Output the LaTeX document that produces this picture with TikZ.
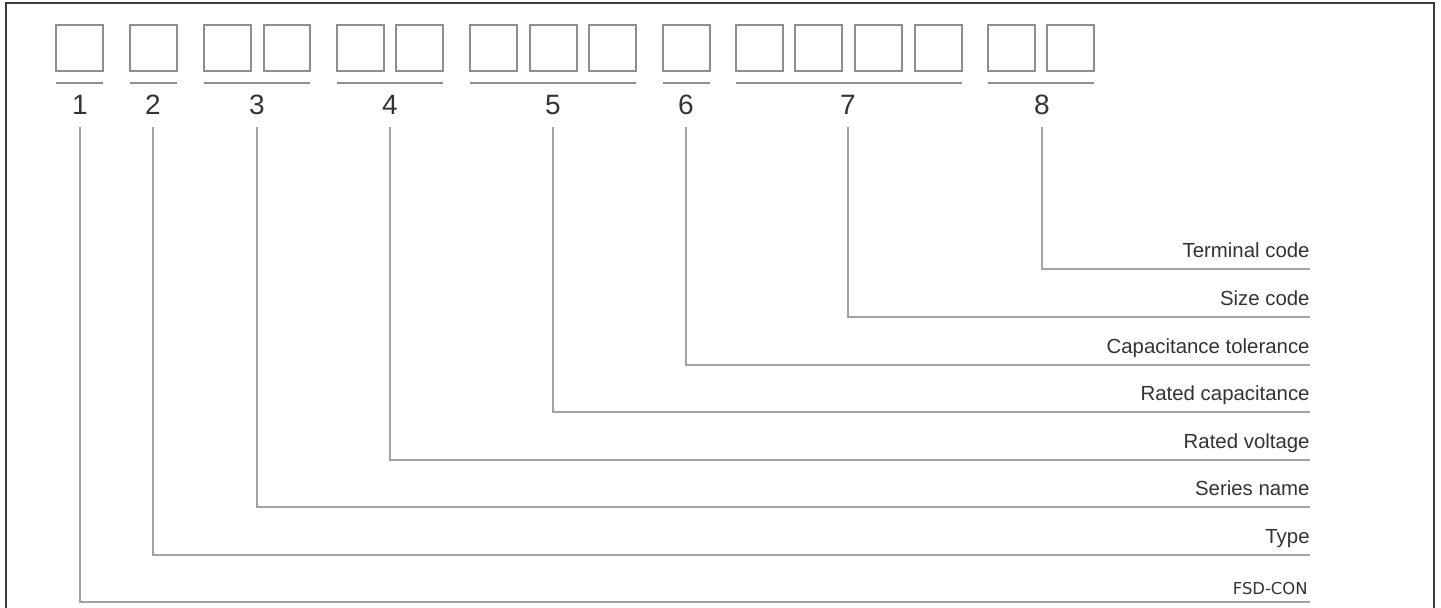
\documentclass[tikz,border=0pt]{standalone}
\usepackage{fontspec}
\setmainfont{Liberation Sans}
\newfontfamily\tagfont{DejaVu Sans}
\usepackage{xcolor}
\usepackage{tikz}
\usetikzlibrary{positioning, calc}

\definecolor{boxgray}{HTML}{8E8E8E}
\definecolor{leadgray}{HTML}{A3A3A3}
\definecolor{inkgray}{HTML}{333333}
\definecolor{framegray}{HTML}{3C3C3C}

\begin{document}
\begin{tikzpicture}[x=0.5pt, y=-0.5pt,
  digitbox/.style={draw=boxgray, line width=1pt, minimum width=23.25pt, minimum height=23pt, inner sep=0pt},
  numlabel/.style={font=\fontsize{14}{14}\selectfont, text=inkgray, inner sep=0pt, text height=10pt, text depth=0pt, outer ysep=6pt},
  desc/.style={font=\fontsize{10.2}{12}\selectfont, text=inkgray, inner sep=0pt},
  underline/.style={draw=boxgray, line width=0.8pt},
  lead/.style={draw=leadgray, line width=0.75pt},
  frame/.style={draw=framegray, line width=1pt}
]
\useasboundingbox (0,0) rectangle (1441,608);

% --- Outer frame ---
\draw[frame] (6,608) -- (6,3.5) -- (1434,3.5) -- (1434,608);

% --- Code boxes ---
\node[digitbox] (b1) at (79.5,48) {};
\node[digitbox] (b2) at (153.5,48) {};
\node[digitbox] (b3a) at (227.5,48) {};
\node[digitbox] (b3b) at (287,48) {};
\node[digitbox] (b4a) at (360.5,48) {};
\node[digitbox] (b4b) at (419.5,48) {};
\node[digitbox] (b5a) at (493.5,48) {};
\node[digitbox] (b5b) at (553.5,48) {};
\node[digitbox] (b5c) at (612.5,48) {};
\node[digitbox] (b6) at (686.5,48) {};
\node[digitbox] (b7a) at (759.5,48) {};
\node[digitbox] (b7b) at (818.5,48) {};
\node[digitbox] (b7c) at (878.5,48) {};
\node[digitbox] (b7d) at (938.5,48) {};
\node[digitbox] (b8a) at (1011.5,48) {};
\node[digitbox] (b8b) at (1070.5,48) {};

% --- Group underlines ---
\foreach \first/\last in {b1/b1, b2/b2, b3a/b3b, b4a/b4b, b5a/b5c, b6/b6, b7a/b7d, b8a/b8b} {
  \draw[underline] ($(\first.south west)+(1,11)$) -- ($(\last.south east)+(-1,11)$);
}

% --- Group numbers ---
\node[numlabel] (n1) at (80,105) {1};
\node[numlabel] (n2) at (153,105) {2};
\node[numlabel] (n3) at (257,105) {3};
\node[numlabel] (n4) at (390,105) {4};
\node[numlabel] (n5) at (553,105) {5};
\node[numlabel] (n6) at (686,105) {6};
\node[numlabel] (n7) at (848,105) {7};
\node[numlabel] (n8) at (1042,105) {8};

% --- Leader lines and descriptions ---
\foreach \i/\ly/\txt in {8/269/Terminal code, 7/317/Size code, 6/365/Capacitance tolerance, 5/412/Rated capacitance, 4/460/Rated voltage, 3/507/Series name, 2/555/Type} {
  \coordinate (e\i) at (1310,\ly);
  \node[desc, anchor=base east] (d\i) at (1310,\ly-11) {\txt};
  \draw[lead] (n\i.south) |- (e\i);
}
\coordinate (e1) at (1310,602);
\node[desc, font=\tagfont\fontsize{8.2}{10}\selectfont, anchor=base east] (d1) at (1308,595) {FSD-CON};
\draw[lead] (n1.south) |- (e1);

\end{tikzpicture}
\end{document}
